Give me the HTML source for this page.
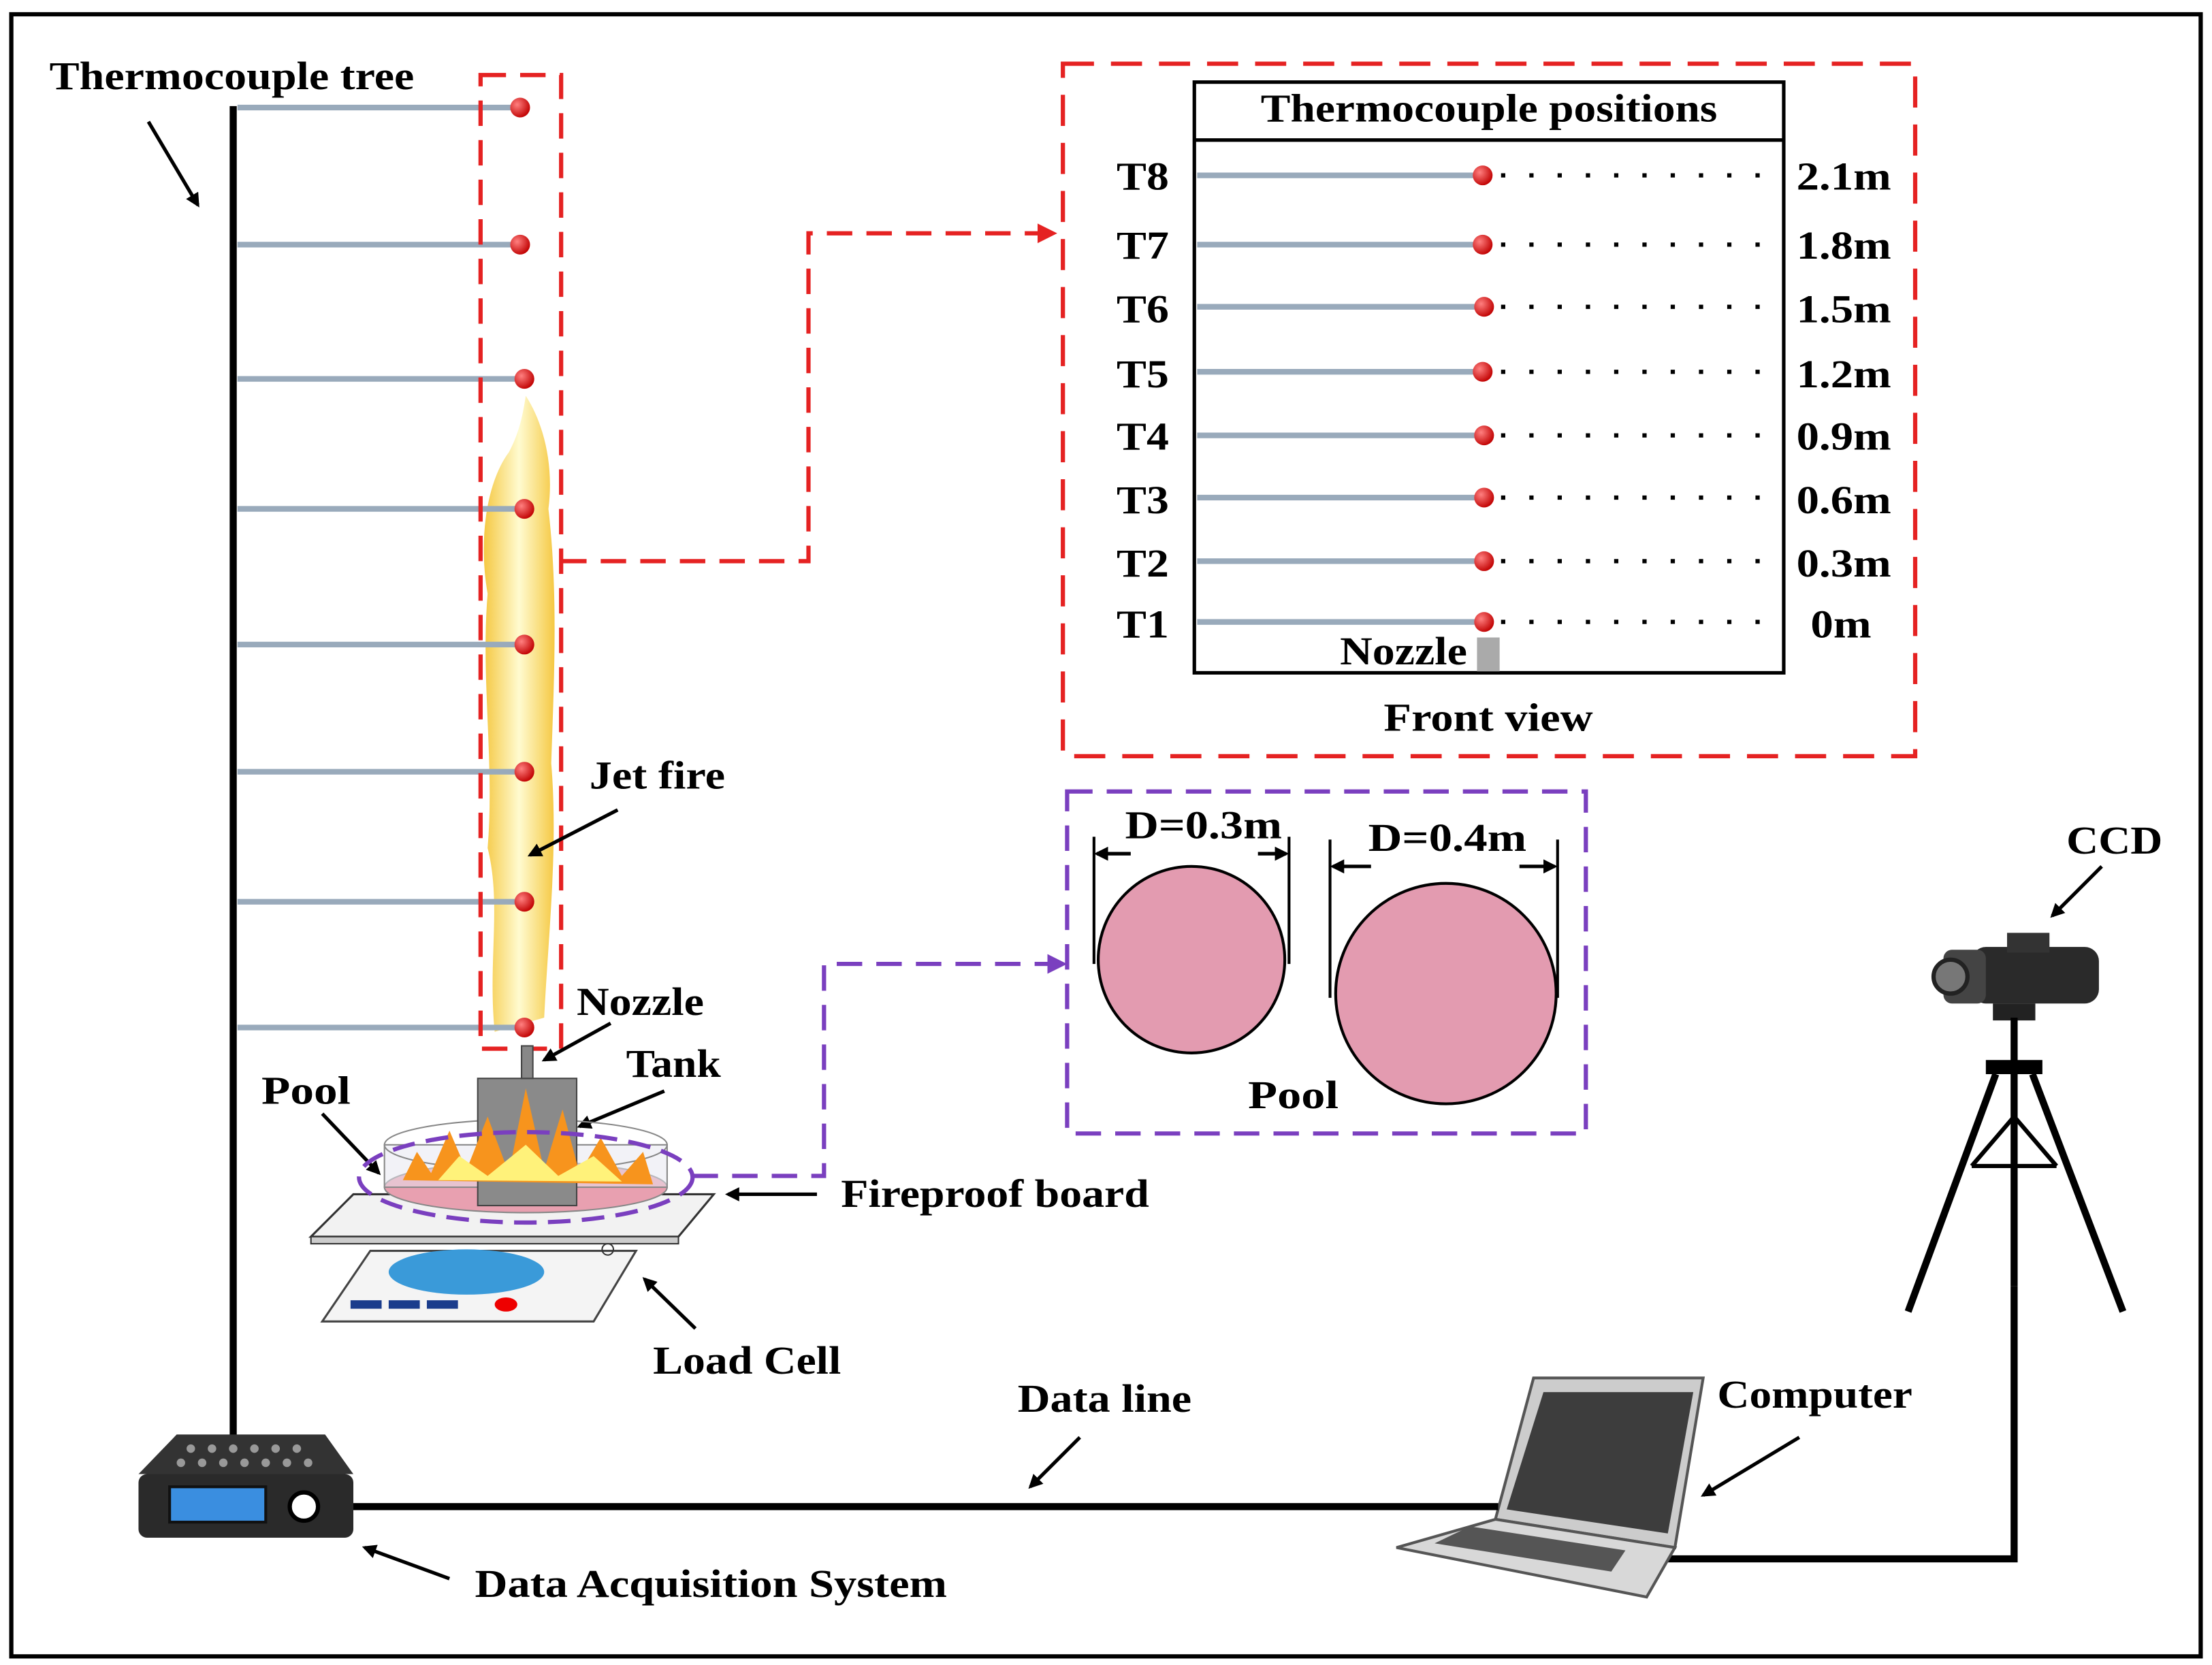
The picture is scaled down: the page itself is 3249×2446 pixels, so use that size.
<!DOCTYPE html>
<html><head><meta charset="utf-8"><style>
html,body{margin:0;padding:0;background:#fff;}
svg{display:block;}
text{font-family:"Liberation Serif",serif;font-weight:bold;fill:#000;}
</style></head><body>
<svg width="3249" height="2446" viewBox="0 0 1565 1178" xmlns="http://www.w3.org/2000/svg">
<defs>
<marker id="ab" markerWidth="10" markerHeight="10" refX="8" refY="5" orient="auto" markerUnits="userSpaceOnUse"><path d="M0,0 L10,5 L0,10 Z" fill="#000"/></marker>
<marker id="ar" markerWidth="14" markerHeight="14" refX="12" refY="7" orient="auto" markerUnits="userSpaceOnUse"><path d="M0,0 L14,7 L0,14 Z" fill="#e52222"/></marker>
<marker id="ap" markerWidth="14" markerHeight="14" refX="12" refY="7" orient="auto" markerUnits="userSpaceOnUse"><path d="M0,0 L14,7 L0,14 Z" fill="#7a3fbf"/></marker>
<radialGradient id="rd" cx="0.35" cy="0.35" r="0.7"><stop offset="0" stop-color="#ff8080"/><stop offset="1" stop-color="#c00000"/></radialGradient>
<linearGradient id="fl" x1="0" x2="1"><stop offset="0" stop-color="#f5c842"/><stop offset="0.5" stop-color="#fffbd0"/><stop offset="1" stop-color="#f5c842"/></linearGradient>
</defs>
<rect x="0" y="0" width="1565" height="1178" fill="#fff"/>
<rect x="8" y="10" width="1549" height="1162" fill="none" stroke="#000" stroke-width="3"/>

<text x="35" y="63" font-size="28" textLength="258" lengthAdjust="spacingAndGlyphs">Thermocouple tree</text>
<line x1="105" y1="86" x2="140" y2="145" stroke="#000" stroke-width="2.5" marker-end="url(#ab)"/>
<line x1="165" y1="75" x2="165" y2="1018" stroke="#000" stroke-width="5"/>
<path d="M372,280 C385,300 392,330 388,360 C395,420 392,480 390,540 C395,600 388,660 385,720 L350,730 C345,680 355,640 345,600 C350,540 340,480 345,420 C338,380 345,340 360,320 C368,305 370,292 372,280 Z" fill="url(#fl)"/>
<g stroke="#9ab" stroke-width="4">
<line x1="168" y1="76" x2="368" y2="76"/><line x1="168" y1="173" x2="368" y2="173"/><line x1="168" y1="268" x2="370" y2="268"/><line x1="168" y1="360" x2="370" y2="360"/><line x1="168" y1="456" x2="370" y2="456"/><line x1="168" y1="546" x2="370" y2="546"/><line x1="168" y1="638" x2="370" y2="638"/><line x1="168" y1="727" x2="370" y2="727"/>
</g>
<g fill="url(#rd)">
<circle cx="368" cy="76" r="7"/><circle cx="368" cy="173" r="7"/><circle cx="371" cy="268" r="7"/><circle cx="371" cy="360" r="7"/><circle cx="371" cy="456" r="7"/><circle cx="371" cy="546" r="7"/><circle cx="371" cy="638" r="7"/><circle cx="371" cy="727" r="7"/>
</g>
<rect x="340" y="53" width="57" height="689" fill="none" stroke="#e52222" stroke-width="3" stroke-dasharray="18,10"/>
<polyline points="397,397 572,397 572,165 746,165" fill="none" stroke="#e52222" stroke-width="3" stroke-dasharray="18,10" marker-end="url(#ar)"/>
<text x="417" y="558" font-size="28" textLength="96" lengthAdjust="spacingAndGlyphs">Jet fire</text>
<line x1="437" y1="573" x2="375" y2="605" stroke="#000" stroke-width="2.5" marker-end="url(#ab)"/>
<text x="408" y="718" font-size="28" textLength="90" lengthAdjust="spacingAndGlyphs">Nozzle</text>
<line x1="432" y1="724" x2="385" y2="750" stroke="#000" stroke-width="2.5" marker-end="url(#ab)"/>
<text x="443" y="762" font-size="28" textLength="67" lengthAdjust="spacingAndGlyphs">Tank</text>
<line x1="470" y1="772" x2="410" y2="797" stroke="#000" stroke-width="2.5" marker-end="url(#ab)"/>
<text x="185" y="781" font-size="28" textLength="63" lengthAdjust="spacingAndGlyphs">Pool</text>
<line x1="228" y1="788" x2="268" y2="830" stroke="#000" stroke-width="2.5" marker-end="url(#ab)"/>

<polygon points="250,845 505,845 480,875 220,875" fill="#f2f2f2" stroke="#333" stroke-width="1.5"/>
<rect x="220" y="875" width="260" height="5" fill="#ccc" stroke="#333"/>
<ellipse cx="372" cy="840" rx="100" ry="18" fill="#e8a0b0" stroke="#888"/>
<rect x="272" y="810" width="200" height="30" fill="rgba(230,230,240,0.5)" stroke="#888"/>
<ellipse cx="372" cy="810" rx="100" ry="18" fill="none" stroke="#888"/>
<rect x="338" y="763" width="70" height="90" fill="#8a8a8a" stroke="#444"/>
<rect x="369" y="740" width="8" height="23" fill="#888" stroke="#444"/>
<path d="M285,835 L295,815 L305,830 L318,800 L330,828 L345,790 L360,830 L372,770 L385,828 L398,785 L410,830 L425,805 L440,832 L455,815 L462,838 Z" fill="#f7941d"/>
<path d="M310,835 L325,818 L345,832 L372,810 L395,832 L420,818 L440,836 Z" fill="#fff27a"/>
<ellipse cx="372" cy="833" rx="118" ry="32" fill="none" stroke="#7a3fbf" stroke-width="3" stroke-dasharray="16,8"/>
<polyline points="490,832 583,832 583,682 753,682" fill="none" stroke="#7a3fbf" stroke-width="3" stroke-dasharray="18,10" marker-end="url(#ap)"/>
<line x1="578" y1="845" x2="515" y2="845" stroke="#000" stroke-width="2.5" marker-end="url(#ab)"/>
<text x="595" y="854" font-size="28" textLength="218" lengthAdjust="spacingAndGlyphs">Fireproof board</text>
<polygon points="262,885 450,885 420,935 228,935" fill="#f4f4f4" stroke="#444" stroke-width="1.5"/>
<ellipse cx="330" cy="900" rx="55" ry="16" fill="#3a9ad9"/>
<rect x="248" y="920" width="22" height="6" fill="#1a3c8c"/><rect x="275" y="920" width="22" height="6" fill="#1a3c8c"/><rect x="302" y="920" width="22" height="6" fill="#1a3c8c"/>
<ellipse cx="358" cy="923" rx="8" ry="5" fill="#e00"/>
<circle cx="430" cy="884" r="4" fill="none" stroke="#333"/>
<line x1="492" y1="940" x2="456" y2="905" stroke="#000" stroke-width="2.5" marker-end="url(#ab)"/>
<text x="462" y="972" font-size="28" textLength="133" lengthAdjust="spacingAndGlyphs">Load Cell</text>

<rect x="752" y="45" width="603" height="490" fill="none" stroke="#e52222" stroke-width="3" stroke-dasharray="22,12"/>
<rect x="845" y="58" width="417" height="418" fill="none" stroke="#000" stroke-width="2.5"/>
<line x1="845" y1="99" x2="1262" y2="99" stroke="#000" stroke-width="2.5"/>
<text x="892" y="86" font-size="28" textLength="323" lengthAdjust="spacingAndGlyphs">Thermocouple positions</text>
<g font-size="28">
<text x="790" y="134" textLength="37" lengthAdjust="spacingAndGlyphs">T8</text><text x="790" y="183" textLength="37" lengthAdjust="spacingAndGlyphs">T7</text><text x="790" y="228" textLength="37" lengthAdjust="spacingAndGlyphs">T6</text><text x="790" y="274" textLength="37" lengthAdjust="spacingAndGlyphs">T5</text><text x="790" y="318" textLength="37" lengthAdjust="spacingAndGlyphs">T4</text><text x="790" y="363" textLength="37" lengthAdjust="spacingAndGlyphs">T3</text><text x="790" y="408" textLength="37" lengthAdjust="spacingAndGlyphs">T2</text><text x="790" y="451" textLength="37" lengthAdjust="spacingAndGlyphs">T1</text>
<text x="1271" y="134" textLength="67" lengthAdjust="spacingAndGlyphs">2.1m</text><text x="1271" y="183" textLength="67" lengthAdjust="spacingAndGlyphs">1.8m</text><text x="1271" y="228" textLength="67" lengthAdjust="spacingAndGlyphs">1.5m</text><text x="1271" y="274" textLength="67" lengthAdjust="spacingAndGlyphs">1.2m</text><text x="1271" y="318" textLength="67" lengthAdjust="spacingAndGlyphs">0.9m</text><text x="1271" y="363" textLength="67" lengthAdjust="spacingAndGlyphs">0.6m</text><text x="1271" y="408" textLength="67" lengthAdjust="spacingAndGlyphs">0.3m</text><text x="1281" y="451" textLength="43" lengthAdjust="spacingAndGlyphs">0m</text>
</g>
<g stroke="#9ab" stroke-width="4">
<line x1="847" y1="124" x2="1049" y2="124"/><line x1="847" y1="173" x2="1049" y2="173"/><line x1="847" y1="217" x2="1049" y2="217"/><line x1="847" y1="263" x2="1049" y2="263"/><line x1="847" y1="308" x2="1049" y2="308"/><line x1="847" y1="352" x2="1049" y2="352"/><line x1="847" y1="397" x2="1049" y2="397"/><line x1="847" y1="440" x2="1049" y2="440"/>
</g>
<g stroke="#000" stroke-width="3" stroke-dasharray="3,17">
<line x1="1062" y1="124" x2="1262" y2="124"/><line x1="1062" y1="173" x2="1262" y2="173"/><line x1="1062" y1="217" x2="1262" y2="217"/><line x1="1062" y1="263" x2="1262" y2="263"/><line x1="1062" y1="308" x2="1262" y2="308"/><line x1="1062" y1="352" x2="1262" y2="352"/><line x1="1062" y1="397" x2="1262" y2="397"/><line x1="1062" y1="440" x2="1262" y2="440"/>
</g>
<g fill="url(#rd)">
<circle cx="1049" cy="124" r="7"/><circle cx="1049" cy="173" r="7"/><circle cx="1050" cy="217" r="7"/><circle cx="1049" cy="263" r="7"/><circle cx="1050" cy="308" r="7"/><circle cx="1050" cy="352" r="7"/><circle cx="1050" cy="397" r="7"/><circle cx="1050" cy="440" r="7"/>
</g>
<rect x="1045" y="451" width="16" height="24" fill="#aaa"/>
<text x="948" y="470" font-size="28" textLength="90" lengthAdjust="spacingAndGlyphs">Nozzle</text>
<text x="979" y="517" font-size="28" textLength="148" lengthAdjust="spacingAndGlyphs">Front view</text>

<rect x="755" y="560" width="367" height="242" fill="none" stroke="#7a3fbf" stroke-width="3" stroke-dasharray="18,10"/>
<circle cx="843" cy="679" r="66" fill="#e39bb0" stroke="#000" stroke-width="2"/>
<circle cx="1023" cy="703" r="78" fill="#e39bb0" stroke="#000" stroke-width="2"/>
<g stroke="#000" stroke-width="2">
<line x1="774" y1="592" x2="774" y2="682"/><line x1="912" y1="592" x2="912" y2="682"/>
<line x1="941" y1="594" x2="941" y2="706"/><line x1="1102" y1="594" x2="1102" y2="706"/>
</g>
<line x1="800" y1="604" x2="776" y2="604" stroke="#000" stroke-width="2.5" marker-end="url(#ab)"/>
<line x1="890" y1="604" x2="910" y2="604" stroke="#000" stroke-width="2.5" marker-end="url(#ab)"/>
<line x1="970" y1="613" x2="943" y2="613" stroke="#000" stroke-width="2.5" marker-end="url(#ab)"/>
<line x1="1075" y1="613" x2="1100" y2="613" stroke="#000" stroke-width="2.5" marker-end="url(#ab)"/>
<text x="796" y="593" font-size="28" textLength="111" lengthAdjust="spacingAndGlyphs">D=0.3m</text>
<text x="968" y="602" font-size="28" textLength="112" lengthAdjust="spacingAndGlyphs">D=0.4m</text>
<text x="883" y="784" font-size="28" textLength="64" lengthAdjust="spacingAndGlyphs">Pool</text>

<text x="1462" y="604" font-size="28" textLength="68" lengthAdjust="spacingAndGlyphs">CCD</text>
<line x1="1487" y1="613" x2="1452" y2="648" stroke="#000" stroke-width="2.5" marker-end="url(#ab)"/>
<rect x="1395" y="670" width="90" height="40" rx="10" fill="#2a2a2a"/>
<rect x="1375" y="672" width="30" height="38" rx="6" fill="#444"/>
<circle cx="1380" cy="691" r="12" fill="#777" stroke="#222" stroke-width="3"/>
<rect x="1420" y="660" width="30" height="14" fill="#333"/>
<rect x="1410" y="710" width="30" height="12" fill="#222"/>
<g stroke="#000" stroke-width="5" fill="none">
<line x1="1425" y1="720" x2="1425" y2="910"/>
<line x1="1412" y1="760" x2="1350" y2="928"/>
<line x1="1438" y1="760" x2="1502" y2="928"/>
<line x1="1405" y1="755" x2="1445" y2="755" stroke-width="10"/>
<line x1="1395" y1="825" x2="1455" y2="825" stroke-width="3"/>
<line x1="1425" y1="790" x2="1395" y2="825" stroke-width="3"/>
<line x1="1425" y1="790" x2="1455" y2="825" stroke-width="3"/>
</g>
<polyline points="1425,910 1425,1103 1175,1103" fill="none" stroke="#000" stroke-width="5"/>

<polygon points="1085,975 1205,975 1185,1095 1058,1075" fill="#ccc" stroke="#555" stroke-width="2"/>
<polygon points="1092,985 1198,985 1180,1085 1066,1068" fill="#3d3d3d"/>
<polygon points="1058,1075 1185,1095 1165,1130 988,1095" fill="#d8d8d8" stroke="#555" stroke-width="2"/>
<polygon points="1040,1080 1150,1097 1140,1112 1015,1092" fill="#555"/>
<text x="1215" y="996" font-size="28" textLength="138" lengthAdjust="spacingAndGlyphs">Computer</text>
<line x1="1273" y1="1017" x2="1205" y2="1058" stroke="#000" stroke-width="2.5" marker-end="url(#ab)"/>

<line x1="250" y1="1066" x2="1060" y2="1066" stroke="#000" stroke-width="5"/>
<text x="720" y="999" font-size="28" textLength="123" lengthAdjust="spacingAndGlyphs">Data line</text>
<line x1="764" y1="1017" x2="729" y2="1052" stroke="#000" stroke-width="2.5" marker-end="url(#ab)"/>

<polygon points="125,1015 230,1015 250,1043 98,1043" fill="#333"/>
<g fill="#999">
<circle cx="135" cy="1025" r="3"/><circle cx="150" cy="1025" r="3"/><circle cx="165" cy="1025" r="3"/><circle cx="180" cy="1025" r="3"/><circle cx="195" cy="1025" r="3"/><circle cx="210" cy="1025" r="3"/>
<circle cx="128" cy="1035" r="3"/><circle cx="143" cy="1035" r="3"/><circle cx="158" cy="1035" r="3"/><circle cx="173" cy="1035" r="3"/><circle cx="188" cy="1035" r="3"/><circle cx="203" cy="1035" r="3"/><circle cx="218" cy="1035" r="3"/>
</g>
<rect x="98" y="1043" width="152" height="45" rx="6" fill="#2a2a2a"/>
<rect x="120" y="1052" width="68" height="25" fill="#3a8ee0" stroke="#111" stroke-width="2"/>
<circle cx="215" cy="1066" r="10" fill="#fff" stroke="#000" stroke-width="3"/>
<line x1="318" y1="1117" x2="258" y2="1095" stroke="#000" stroke-width="2.5" marker-end="url(#ab)"/>
<text x="336" y="1130" font-size="28" textLength="334" lengthAdjust="spacingAndGlyphs">Data Acquisition System</text>
</svg>
</body></html>
